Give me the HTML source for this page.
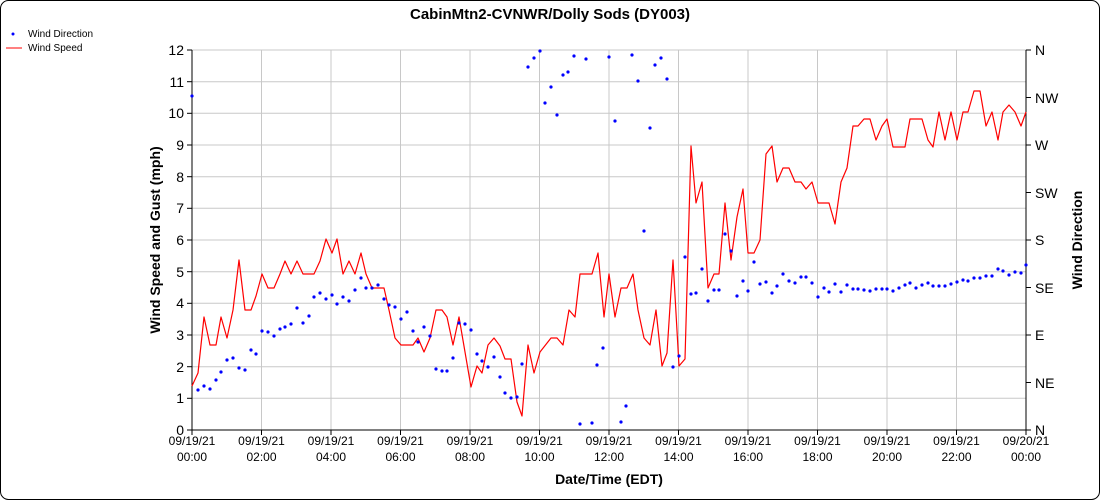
<!DOCTYPE html>
<html><head><style>body{margin:0;background:#fff}svg{display:block;font-family:"Liberation Sans",sans-serif}</style></head><body>
<svg width="1100" height="500" xmlns="http://www.w3.org/2000/svg">
<rect x="0.5" y="0.5" width="1099" height="499" rx="8" fill="#fff" stroke="#000"/>
<text x="550" y="19" text-anchor="middle" font-size="15" font-weight="bold">CabinMtn2-CVNWR/Dolly Sods (DY003)</text>
<g stroke="#c8c8c8" stroke-width="1">
<line x1="192" x2="1026" y1="50" y2="50"/><line x1="192" x2="1026" y1="81.7" y2="81.7"/><line x1="192" x2="1026" y1="113.3" y2="113.3"/><line x1="192" x2="1026" y1="145" y2="145"/><line x1="192" x2="1026" y1="176.7" y2="176.7"/><line x1="192" x2="1026" y1="208.3" y2="208.3"/><line x1="192" x2="1026" y1="240" y2="240"/><line x1="192" x2="1026" y1="271.7" y2="271.7"/><line x1="192" x2="1026" y1="303.3" y2="303.3"/><line x1="192" x2="1026" y1="335" y2="335"/><line x1="192" x2="1026" y1="366.7" y2="366.7"/><line x1="192" x2="1026" y1="398.3" y2="398.3"/>
<line y1="50" y2="430" x1="261.5" x2="261.5"/><line y1="50" y2="430" x1="331" x2="331"/><line y1="50" y2="430" x1="400.5" x2="400.5"/><line y1="50" y2="430" x1="470" x2="470"/><line y1="50" y2="430" x1="539.5" x2="539.5"/><line y1="50" y2="430" x1="609" x2="609"/><line y1="50" y2="430" x1="678.5" x2="678.5"/><line y1="50" y2="430" x1="748" x2="748"/><line y1="50" y2="430" x1="817.5" x2="817.5"/><line y1="50" y2="430" x1="887" x2="887"/><line y1="50" y2="430" x1="956.5" x2="956.5"/>
</g>
<g stroke="#000" stroke-width="1">
<line x1="192" y1="50" x2="192" y2="430"/><line x1="1026" y1="50" x2="1026" y2="430"/><line x1="192" y1="430" x2="1026" y2="430"/>
<line x1="187" x2="192" y1="50" y2="50"/><line x1="187" x2="192" y1="81.7" y2="81.7"/><line x1="187" x2="192" y1="113.3" y2="113.3"/><line x1="187" x2="192" y1="145" y2="145"/><line x1="187" x2="192" y1="176.7" y2="176.7"/><line x1="187" x2="192" y1="208.3" y2="208.3"/><line x1="187" x2="192" y1="240" y2="240"/><line x1="187" x2="192" y1="271.7" y2="271.7"/><line x1="187" x2="192" y1="303.3" y2="303.3"/><line x1="187" x2="192" y1="335" y2="335"/><line x1="187" x2="192" y1="366.7" y2="366.7"/><line x1="187" x2="192" y1="398.3" y2="398.3"/><line x1="187" x2="192" y1="430" y2="430"/>
<line x1="1026" x2="1031" y1="50" y2="50"/><line x1="1026" x2="1031" y1="97.5" y2="97.5"/><line x1="1026" x2="1031" y1="145" y2="145"/><line x1="1026" x2="1031" y1="192.5" y2="192.5"/><line x1="1026" x2="1031" y1="240" y2="240"/><line x1="1026" x2="1031" y1="287.5" y2="287.5"/><line x1="1026" x2="1031" y1="335" y2="335"/><line x1="1026" x2="1031" y1="382.5" y2="382.5"/><line x1="1026" x2="1031" y1="430" y2="430"/>
<line y1="430" y2="435" x1="192" x2="192"/><line y1="430" y2="435" x1="261.5" x2="261.5"/><line y1="430" y2="435" x1="331" x2="331"/><line y1="430" y2="435" x1="400.5" x2="400.5"/><line y1="430" y2="435" x1="470" x2="470"/><line y1="430" y2="435" x1="539.5" x2="539.5"/><line y1="430" y2="435" x1="609" x2="609"/><line y1="430" y2="435" x1="678.5" x2="678.5"/><line y1="430" y2="435" x1="748" x2="748"/><line y1="430" y2="435" x1="817.5" x2="817.5"/><line y1="430" y2="435" x1="887" x2="887"/><line y1="430" y2="435" x1="956.5" x2="956.5"/><line y1="430" y2="435" x1="1026" x2="1026"/>
</g>
<g font-size="14" text-anchor="end">
<text x="184" y="55">12</text><text x="184" y="87">11</text><text x="184" y="118">10</text><text x="184" y="150">9</text><text x="184" y="182">8</text><text x="184" y="213">7</text><text x="184" y="245">6</text><text x="184" y="277">5</text><text x="184" y="308">4</text><text x="184" y="340">3</text><text x="184" y="372">2</text><text x="184" y="403">1</text><text x="184" y="435">0</text>
</g>
<g font-size="14">
<text x="1035" y="55">N</text><text x="1035" y="103">NW</text><text x="1035" y="150">W</text><text x="1035" y="198">SW</text><text x="1035" y="245">S</text><text x="1035" y="293">SE</text><text x="1035" y="340">E</text><text x="1035" y="388">NE</text><text x="1035" y="435">N</text>
</g>
<g font-size="12" text-anchor="middle">
<text x="192" y="445">09/19/21</text><text x="192" y="461">00:00</text>
<text x="261.5" y="445">09/19/21</text><text x="261.5" y="461">02:00</text>
<text x="331" y="445">09/19/21</text><text x="331" y="461">04:00</text>
<text x="400.5" y="445">09/19/21</text><text x="400.5" y="461">06:00</text>
<text x="470" y="445">09/19/21</text><text x="470" y="461">08:00</text>
<text x="539.5" y="445">09/19/21</text><text x="539.5" y="461">10:00</text>
<text x="609" y="445">09/19/21</text><text x="609" y="461">12:00</text>
<text x="678.5" y="445">09/19/21</text><text x="678.5" y="461">14:00</text>
<text x="748" y="445">09/19/21</text><text x="748" y="461">16:00</text>
<text x="817.5" y="445">09/19/21</text><text x="817.5" y="461">18:00</text>
<text x="887" y="445">09/19/21</text><text x="887" y="461">20:00</text>
<text x="956.5" y="445">09/19/21</text><text x="956.5" y="461">22:00</text>
<text x="1026" y="445">09/20/21</text><text x="1026" y="461">00:00</text>
</g>
<text x="609" y="484" text-anchor="middle" font-size="14" font-weight="bold">Date/Time (EDT)</text>
<text transform="translate(160,240) rotate(-90)" text-anchor="middle" font-size="14" font-weight="bold">Wind Speed and Gust (mph)</text>
<text transform="translate(1082,240) rotate(-90)" text-anchor="middle" font-size="14" font-weight="bold">Wind Direction</text>
<circle cx="13" cy="34" r="1.5" fill="#0000ff"/>
<text x="28" y="37" font-size="10">Wind Direction</text>
<line x1="6" x2="22" y1="48" y2="48" stroke="#ff0000"/>
<text x="28" y="51" font-size="10">Wind Speed</text>
<polyline fill="none" stroke="#ff0000" stroke-width="1.2" stroke-linejoin="round" points="192,386 198,373 204,317 210,345 216,345 221,317 227,338 233,310 239,260 245,310 251,310 256,296 262,274 268,288 274,288 280,274 285,261 291,274 297,261 303,274 314,274 320,261 326,239 332,253 337,239 343,274 349,261 355,274 361,253 366,274 372,288 384,288 389,310 395,338 401,345 413,345 418,338 424,352 430,338 436,310 442,310 447,317 453,345 459,317 465,352 471,387 477,366 482,373 488,345 494,338 500,346 505,359 511,359 517,402 522,416 528,345 534,373 540,352 551,338 557,338 563,345 569,310 575,317 580,274 592,274 598,253 604,317 609,274 615,317 621,288 627,288 633,274 638,310 644,338 650,345 656,310 662,366 667,353 673,260 679,366 685,359 691,146 696,203 702,182 708,288 714,274 719,274 725,203 731,260 737,217 743,189 748,253 754,253 760,240 766,154 772,146 777,182 783,168 789,168 795,182 801,182 806,189 812,182 818,203 829,203 835,224 841,182 847,168 853,126 858,126 864,119 870,119 876,140 882,126 887,119 893,147 905,147 910,119 922,119 928,140 933,147 939,112 945,140 951,112 957,140 963,112 968,112 974,91 980,91 986,126 992,112 998,140 1003,112 1009,105 1015,112 1021,126 1026,112"/>
<path fill="none" stroke="#0000ff" stroke-width="3.2" stroke-linecap="round" d="M192 96h0M198 390h0M204 386h0M210 389h0M216 380h0M221 372h0M227 360h0M233 358h0M239 368h0M245 370h0M251 350h0M256 354h0M262 331h0M268 332h0M274 336h0M280 329h0M285 327h0M291 324h0M297 308h0M303 323h0M309 316h0M314 297h0M320 293h0M326 299h0M332 295h0M337 304h0M343 297h0M349 301h0M355 290h0M361 278h0M366 288h0M372 288h0M378 285h0M384 299h0M389 305h0M395 307h0M401 319h0M407 312h0M413 331h0M418 342h0M424 327h0M430 336h0M436 369h0M442 371h0M447 371h0M453 358h0M459 323h0M465 324h0M471 330h0M477 354h0M482 361h0M488 367h0M494 357h0M500 377h0M505 393h0M511 398h0M517 397h0M522 364h0M528 67h0M534 58h0M540 51h0M545 103h0M551 87h0M557 115h0M563 75h0M568 72h0M574 56h0M580 424h0M586 59h0M592 423h0M597 365h0M603 348h0M609 57h0M615 121h0M621 422h0M626 406h0M632 55h0M638 81h0M644 231h0M650 128h0M655 65h0M661 58h0M667 79h0M673 367h0M679 356h0M685 257h0M691 294h0M696 293h0M702 269h0M708 301h0M714 290h0M719 290h0M725 234h0M731 251h0M737 296h0M743 281h0M748 291h0M754 262h0M760 284h0M766 282h0M772 293h0M777 286h0M783 274h0M789 281h0M795 283h0M801 277h0M806 277h0M812 283h0M818 297h0M824 288h0M829 292h0M835 284h0M841 292h0M847 285h0M853 289h0M858 289h0M864 290h0M870 291h0M876 289h0M882 289h0M887 289h0M893 291h0M899 288h0M905 285h0M910 283h0M916 288h0M922 285h0M928 283h0M933 286h0M939 286h0M945 286h0M951 284h0M957 282h0M963 280h0M968 281h0M974 278h0M980 278h0M986 276h0M992 276h0M998 269h0M1003 271h0M1009 275h0M1015 272h0M1021 273h0M1026 265h0"/>
</svg>
</body></html>
